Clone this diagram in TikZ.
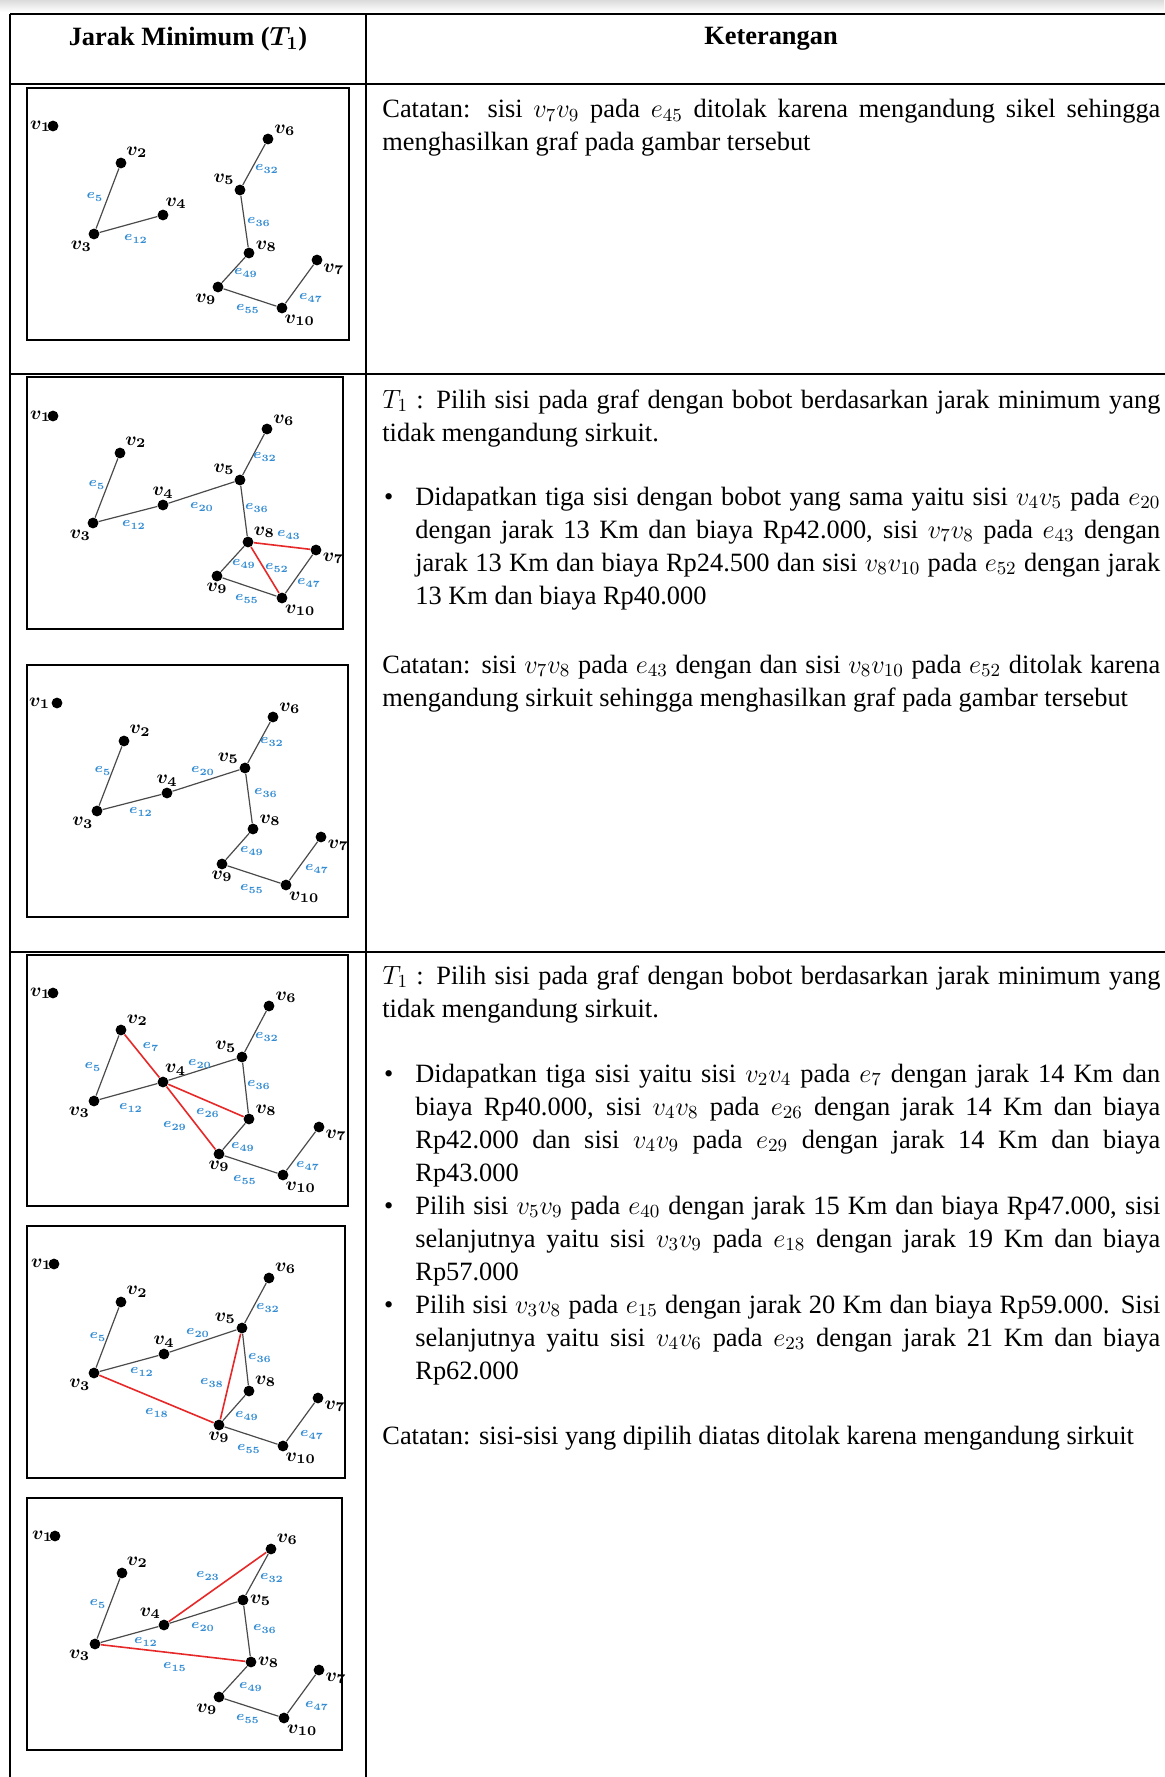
\RequirePackage{fix-cm}
\documentclass[tikz,border=0pt]{standalone}
\usepackage{fontspec}
\setmainfont{Liberation Serif}
\usepackage{bm}
\usepackage{xcolor}
\definecolor{elblue}{HTML}{338CD2}
\definecolor{linkred}{HTML}{E62828}
\definecolor{linkgrey}{HTML}{4A4A4A}
\tolerance=10000
\hbadness=10000
% bullet paragraph with hanging indent
\newcommand{\butir}{\noindent\hangindent=16.5pt\hangafter=1\makebox[16.5pt][l]{\hspace{0.8pt}\textbullet}}

\begin{document}
\begin{tikzpicture}[x=0.5pt,y=-0.5pt,
  tabline/.style={line width=1.3pt},
  panel/.style={line width=1pt},
  vtx/.style={circle,fill=black,inner sep=0pt,minimum size=5.4pt},
  vl/.style={font=\fontsize{9.5}{10}\selectfont,inner sep=0.4pt},
  el/.style={font=\fontsize{6.8}{7}\selectfont,text=elblue,inner sep=0pt},
  link/.style={linkgrey,line width=0.6pt},
  redlink/.style={linkred,line width=0.8pt},
  head/.style={font=\fontsize{13.2}{16}\selectfont\bfseries},
  txt/.style={anchor=base west,inner sep=0pt,text width=389pt,align=justify,
    font=\fontsize{13.2}{16.5}\selectfont}]
\useasboundingbox (0,0) rectangle (1164,1777);
\shade[top color=black!14,bottom color=white] (0,0) rectangle (1164,12);

% table rules
\foreach \ry in {14,84,374,952}
  \draw[tabline] (10,\ry) -- (1180,\ry);
\draw[tabline] (10,14) -- (10,1777);
\draw[tabline] (366,14) -- (366,1777);
\node[head] (hcol1) at (188,39) {Jarak Minimum ($\bm{T_1}$)};
\node[head] (hcol2) at (771,39) {Keterangan};

% ---- graph a ----
\draw[panel] (27,88) rectangle (349,340);
\node[vtx,label={[vl,label distance=-2.5pt]180:$\bm{v_{1}}$}] (a1) at (53,126) {};
\foreach \n/\x/\y/\ang in {2/121/163/45,3/94/234/-100,4/163/215/75,5/240/190/135,
    6/268/139/25,7/317/260/-25,8/249/253/5,9/218/287/-95,10/282/308/-75}
  \node[vtx,label={[vl]\ang:$\bm{v_{\n}}$}] (a\n) at (\x,\y) {};
\foreach \s/\t in {2/3,3/4,6/5,5/8,8/9,9/10,10/7}
  \draw[link] (a\s) -- (a\t);
\foreach \k/\x/\y in {5/95/197,12/136/239,32/267/169,36/259/222,49/246/273,47/311/298,55/248/309}
  \node[el] (a-e\k) at (\x,\y) {$\bm{e_{\k}}$};

% ---- graph b ----
\draw[panel] (27,377) rectangle (343,629);
\node[vtx,label={[vl,label distance=-2.5pt]180:$\bm{v_{1}}$}] (b1) at (53,416) {};
\foreach \n/\x/\y/\ang in {2/120/453/45,3/93/523/-100,4/163/505/90,5/240/480/135,
    6/267/429/25,7/316/550/-15,8/248/542/35,9/217/576/-90,10/282/598/-70}
  \node[vtx,label={[vl]\ang:$\bm{v_{\n}}$}] (b\n) at (\x,\y) {};
\foreach \s/\t in {2/3,3/4,4/5,5/6,5/8,8/9,9/10,10/7}
  \draw[link] (b\s) -- (b\t);
\draw[redlink] (b8) -- (b7);
\draw[redlink] (b8) -- (b10);
\foreach \k/\x/\y in {5/97/485,12/134/525,20/202/507,32/265/457,36/257/508,43/289/535,
    52/277/568,49/244/564,47/309/583,55/247/599}
  \node[el] (b-e\k) at (\x,\y) {$\bm{e_{\k}}$};

% ---- graph c ----
\draw[panel] (27,665) rectangle (348,917);
\foreach \n/\x/\y/\ang in {1/57/703/180,2/124/741/40,3/97/811/-115,4/167/793/90,5/245/768/150,
    6/273/717/25,7/321/837/-15,8/253/829/20,9/222/864/-90,10/286/885/-70}
  \node[vtx,label={[vl]\ang:$\bm{v_{\n}}$}] (c\n) at (\x,\y) {};
\foreach \s/\t in {2/3,3/4,4/5,5/6,5/8,8/9,9/10,10/7}
  \draw[link] (c\s) -- (c\t);
\foreach \k/\x/\y in {5/103/771,12/141/812,20/203/771,32/272/742,36/266/793,49/252/851,
    47/317/869,55/252/889}
  \node[el] (c-e\k) at (\x,\y) {$\bm{e_{\k}}$};

% ---- graph d ----
\draw[panel] (27,955) rectangle (348,1206);
\node[vtx,label={[vl,label distance=-2.5pt]180:$\bm{v_{1}}$}] (d1) at (53,993) {};
\foreach \n/\x/\y/\ang in {2/121/1030/35,3/94/1101/-120,4/163/1082/80,5/242/1057/140,
    6/269/1006/20,7/319/1127/-20,8/249/1119/20,9/219/1154/-90,10/283/1175/-75}
  \node[vtx,label={[vl]\ang:$\bm{v_{\n}}$}] (d\n) at (\x,\y) {};
\foreach \s/\t in {2/3,3/4,4/5,5/6,5/8,8/9,9/10,10/7}
  \draw[link] (d\s) -- (d\t);
\foreach \t in {2,8,9}
  \draw[redlink] (d4) -- (d\t);
\foreach \k/\x/\y in {7/151/1047,5/93/1067,20/200/1064,12/131/1108,29/175/1126,26/208/1113,
    32/267/1037,36/259/1085,49/243/1147,47/308/1166,55/245/1180}
  \node[el] (d-e\k) at (\x,\y) {$\bm{e_{\k}}$};

% ---- graph e ----
\draw[panel] (27,1226) rectangle (345,1478);
\node[vtx,label={[vl,label distance=-2.5pt]180:$\bm{v_{1}}$}] (e1) at (54,1264) {};
\foreach \n/\x/\y/\ang in {2/121/1302/40,3/94/1373/-115,4/164/1354/90,5/242/1328/150,
    6/269/1278/30,7/318/1398/-20,8/249/1391/30,9/219/1425/-90,10/283/1446/-75}
  \node[vtx,label={[vl]\ang:$\bm{v_{\n}}$}] (e\n) at (\x,\y) {};
\foreach \s/\t in {2/3,3/4,4/5,5/6,5/8,8/9,9/10,10/7}
  \draw[link] (e\s) -- (e\t);
\draw[redlink] (e3) -- (e9);
\draw[redlink] (e5) -- (e9);
\foreach \k/\x/\y in {5/98/1337,12/142/1372,20/198/1333,32/268/1308,36/260/1358,38/212/1383,
    18/157/1413,49/247/1416,47/312/1435,55/249/1449}
  \node[el] (e-e\k) at (\x,\y) {$\bm{e_{\k}}$};

% ---- graph f ----
\draw[panel] (27,1498) rectangle (342,1750);
\node[vtx,label={[vl,label distance=-2.5pt]180:$\bm{v_{1}}$}] (f1) at (55,1536) {};
\foreach \n/\x/\y/\ang in {2/122/1573/50,3/95/1644/-130,4/164/1625/110,5/243/1600/0,
    6/271/1549/35,7/319/1670/-20,8/251/1662/0,9/219/1697/-95,10/284/1718/-70}
  \node[vtx,label={[vl]\ang:$\bm{v_{\n}}$}] (f\n) at (\x,\y) {};
\foreach \s/\t in {2/3,3/4,4/5,5/6,5/8,8/9,9/10,10/7}
  \draw[link] (f\s) -- (f\t);
\draw[redlink] (f4) -- (f6);
\draw[redlink] (f3) -- (f8);
\foreach \k/\x/\y in {23/208/1576,32/272/1578,5/98/1604,20/203/1627,36/265/1629,12/146/1642,
    15/175/1667,49/251/1687,47/317/1706,55/248/1719}
  \node[el] (f-e\k) at (\x,\y) {$\bm{e_{\k}}$};

% ---- keterangan ----
\node[txt] (ket1) at (382,118) {Catatan: sisi $v_7v_9$ pada $e_{45}$ ditolak karena mengandung sikel sehingga\linebreak
  menghasilkan graf pada gambar tersebut\par};

\node[txt] (ket2a) at (382,408) {$T_1$ : Pilih sisi pada graf dengan bobot berdasarkan jarak minimum yang\linebreak
  tidak mengandung sirkuit.\par};
\node[txt] (ket2b) at (382,505) {\butir Didapatkan tiga sisi dengan bobot yang sama yaitu sisi $v_4v_5$ pada $e_{20}$\linebreak
  dengan jarak 13 Km dan biaya Rp42.000, sisi $v_7v_8$ pada $e_{43}$ dengan\linebreak
  jarak 13 Km dan biaya Rp24.500 dan sisi $v_8v_{10}$ pada $e_{52}$ dengan jarak\linebreak
  13 Km dan biaya Rp40.000\par};
\node[txt] (ket2c) at (382,673) {Catatan: sisi $v_7v_8$ pada $e_{43}$ dengan dan sisi $v_8v_{10}$ pada $e_{52}$ ditolak karena\linebreak
  mengandung sirkuit sehingga menghasilkan graf pada gambar tersebut\par};

\node[txt] (ket3a) at (382,984) {$T_1$ : Pilih sisi pada graf dengan bobot berdasarkan jarak minimum yang\linebreak
  tidak mengandung sirkuit.\par};
\node[txt] (ket3b) at (382,1082) {\butir Didapatkan tiga sisi yaitu sisi $v_2v_4$ pada $e_7$ dengan jarak 14 Km dan\linebreak
  biaya Rp40.000, sisi $v_4v_8$ pada $e_{26}$ dengan jarak 14 Km dan biaya\linebreak
  Rp42.000 dan sisi $v_4v_9$ pada $e_{29}$ dengan jarak 14 Km dan biaya\linebreak
  Rp43.000\par
  \butir Pilih sisi $v_5v_9$ pada $e_{40}$ dengan jarak 15 Km dan biaya Rp47.000, sisi\linebreak
  selanjutnya yaitu sisi $v_3v_9$ pada $e_{18}$ dengan jarak 19 Km dan biaya\linebreak
  Rp57.000\par
  \butir Pilih sisi $v_3v_8$ pada $e_{15}$ dengan jarak 20 Km dan biaya Rp59.000. Sisi\linebreak
  selanjutnya yaitu sisi $v_4v_6$ pada $e_{23}$ dengan jarak 21 Km dan biaya\linebreak
  Rp62.000\par};
\node[txt] (ket3c) at (382,1444) {Catatan: sisi-sisi yang dipilih diatas ditolak karena mengandung sirkuit\par};
\end{tikzpicture}
\end{document}
